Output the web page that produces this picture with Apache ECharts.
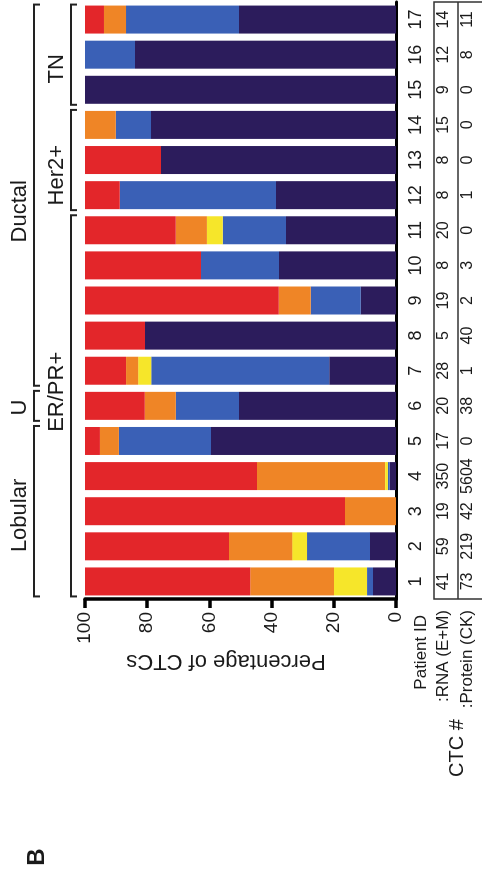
<!DOCTYPE html>
<html>
<head>
<meta charset="utf-8">
<script src="https://cdn.jsdelivr.net/npm/echarts@6/dist/echarts.min.js"></script>
<style>
    html, body { margin: 0; padding: 0; background: #fff; overflow: hidden; }
    #wrap { position: relative; width: 483px; height: 878px; overflow: hidden; }
    /* the figure is drawn upright and then turned a quarter to the left */
    #chart {
        position: absolute; left: 0; top: 0;
        width: 878px; height: 483px;
        transform-origin: 0 0;
        transform: translateY(878px) rotate(-90deg);
    }
</style>
</head>
<body>
<div id="wrap"><div id="chart"></div></div>
<script>
    var patients = ['1', '2', '3', '4', '5', '6', '7', '8', '9', '10', '11', '12', '13', '14', '15', '16', '17'];

    // percentage of CTCs per patient, stacked from 0 upwards
    var navy   = [7.4, 8.4, 0, 2.0, 59.5, 50.5, 21.5, 80.7, 11.3, 37.6, 35.4, 38.6, 75.6, 78.8, 100, 83.9, 50.5];
    var blue   = [1.9, 20.2, 0, 0.6, 29.6, 20.3, 57.2, 0, 16.1, 25.1, 20.3, 50.2, 0, 11.3, 0, 16.1, 36.3];
    var yellow = [10.6, 4.8, 0, 0.9, 0, 0, 4.2, 0, 0, 0, 5.1, 0, 0, 0, 0, 0, 0];
    var orange = [27.0, 20.3, 16.4, 41.2, 6.1, 10.0, 3.9, 0, 10.3, 0, 10.0, 0, 0, 9.9, 0, 0, 7.1];
    var red    = [53.1, 46.3, 83.6, 55.3, 4.8, 19.2, 13.2, 19.3, 62.3, 37.3, 29.2, 11.2, 24.4, 0, 0, 0, 6.1];

    var rnaCounts     = [41, 59, 19, 350, 17, 20, 28, 5, 19, 8, 20, 8, 8, 15, 9, 12, 14];
    var proteinCounts = [73, 219, 42, 5604, 0, 38, 1, 40, 2, 3, 0, 1, 0, 0, 0, 8, 11];

    // groups: first and last patient index, and where the label sits (in patient index units)
    var outerGroups = [
        { name: 'Lobular', from: 0, to: 4, at: 1.88 },
        { name: 'U', from: 5, to: 5, at: 4.95 },
        { name: 'Ductal', from: 6, to: 16, at: 10.54 }
    ];
    var innerGroups = [
        { name: 'ER/PR+', from: 0, to: 10, at: 5.4 },
        { name: 'Her2+', from: 11, to: 13, at: 11.57 },
        { name: 'TN', from: 14, to: 16, at: 14.6 }
    ];

    var FONT = 'Liberation Sans, Arial, Helvetica, sans-serif';
    var INK = '#1a1a1a';

    var chart = echarts.init(document.getElementById('chart'));

    function barSeries(name, data, color) {
        return {
            name: name,
            type: 'bar',
            stack: 'pct',
            barWidth: 28,
            data: data,
            itemStyle: { color: color },
            emphasis: { disabled: true }
        };
    }

    function countAxis(values, offset) {
        return {
            type: 'category',
            data: patients,
            position: 'bottom',
            offset: offset,
            axisLine: { show: false },
            axisTick: { show: false },
            axisLabel: {
                interval: 0,
                margin: 11,
                fontSize: 16,
                fontFamily: FONT,
                color: INK,
                formatter: function (v, i) { return String(values[i]); }
            }
        };
    }

    chart.setOption({
        animation: false,
        backgroundColor: '#fff',
        grid: { left: 279, right: 2, top: 85, bottom: 87, outerBoundsMode: 'none' },
        xAxis: [
            {
                type: 'category',
                data: patients,
                position: 'bottom',
                axisLine: { lineStyle: { color: '#000', width: 3 } },
                axisTick: { alignWithLabel: true, length: 8, lineStyle: { color: '#000', width: 3 } },
                axisLabel: { interval: 0, margin: 11, fontSize: 18, fontFamily: FONT, color: INK }
            },
            countAxis(rnaCounts, 29),
            countAxis(proteinCounts, 53)
        ],
        yAxis: {
            type: 'value',
            min: 0,
            max: 100,
            interval: 20,
            axisLine: { show: true, lineStyle: { color: '#000', width: 3.5 } },
            axisTick: { show: true, length: 9, lineStyle: { color: '#000', width: 3.5 } },
            axisLabel: { margin: 13, fontSize: 19, fontFamily: FONT, color: INK },
            splitLine: { show: false }
        },
        series: [
            barSeries('navy', navy, '#2c1c5c'),
            barSeries('blue', blue, '#3a60b6'),
            barSeries('yellow', yellow, '#f6e62a'),
            barSeries('orange', orange, '#ef8526'),
            barSeries('red', red, '#e3262a')
        ]
    });

    // pixel helpers from the chart's own axes
    var c0 = chart.convertToPixel({ xAxisIndex: 0 }, 0);
    var c1 = chart.convertToPixel({ xAxisIndex: 0 }, 1);
    var step = c1 - c0;
    function catX(i) { return c0 + step * i; }
    var gridLeft = c0 - step / 2;
    var gridRight = catX(16) + step / 2;
    var baseY = chart.convertToPixel({ yAxisIndex: 0 }, 0);

    var graphics = [];

    function bracket(g, y, text, textY) {
        var x1 = catX(g.from) - 15;
        var x2 = catX(g.to) + 15;
        graphics.push({
            type: 'polyline',
            shape: { points: [[x1, y + 6], [x1, y], [x2, y], [x2, y + 6]] },
            style: { stroke: '#222', lineWidth: 2, fill: null }
        });
        graphics.push({
            type: 'text',
            x: catX(g.at),
            y: textY,
            style: {
                text: text, fontSize: 22, fontFamily: FONT, fill: INK,
                align: 'center', verticalAlign: 'middle'
            }
        });
    }
    outerGroups.forEach(function (g) { bracket(g, 34, g.name, 20); });
    innerGroups.forEach(function (g) { bracket(g, 71, g.name, 57); });

    // count table frame
    var tTop = baseY + 38;
    var tMid = baseY + 62;
    var tBot = baseY + 86;
    graphics.push({
        type: 'polyline',
        shape: { points: [[gridLeft, tBot], [gridLeft, tTop], [gridRight, tTop], [gridRight, tBot]] },
        style: { stroke: '#333', lineWidth: 1.5, fill: null }
    });
    graphics.push({
        type: 'line',
        shape: { x1: gridLeft, y1: tMid, x2: gridRight, y2: tMid },
        style: { stroke: '#333', lineWidth: 1.5 }
    });

    function label(text, x, y, size, align, extra) {
        var el = {
            type: 'text', x: x, y: y,
            style: {
                text: text, fontSize: size, fontFamily: FONT, fill: INK,
                align: align, verticalAlign: 'middle'
            }
        };
        if (extra) {
            for (var k in extra) { el[k] = extra[k]; }
        }
        graphics.push(el);
    }

    label('Percentage of CTCs', 217, 226, 22, 'center', { rotation: Math.PI / 2 });
    label('Patient ID', gridLeft - 16, baseY + 25, 17, 'right');
    label(':RNA (E+M)', gridLeft - 11, baseY + 47, 17, 'right');
    label(':Protein (CK)', gridLeft - 11, baseY + 71, 17, 'right');
    label('CTC #', 130, baseY + 61, 20, 'center');
    graphics.push({
        type: 'text', x: 21, y: 37,
        style: {
            text: 'B', fontSize: 24, fontWeight: 'bold', fontFamily: FONT, fill: INK,
            align: 'center', verticalAlign: 'middle'
        }
    });

    chart.setOption({ graphic: graphics });
</script>
</body>
</html>
